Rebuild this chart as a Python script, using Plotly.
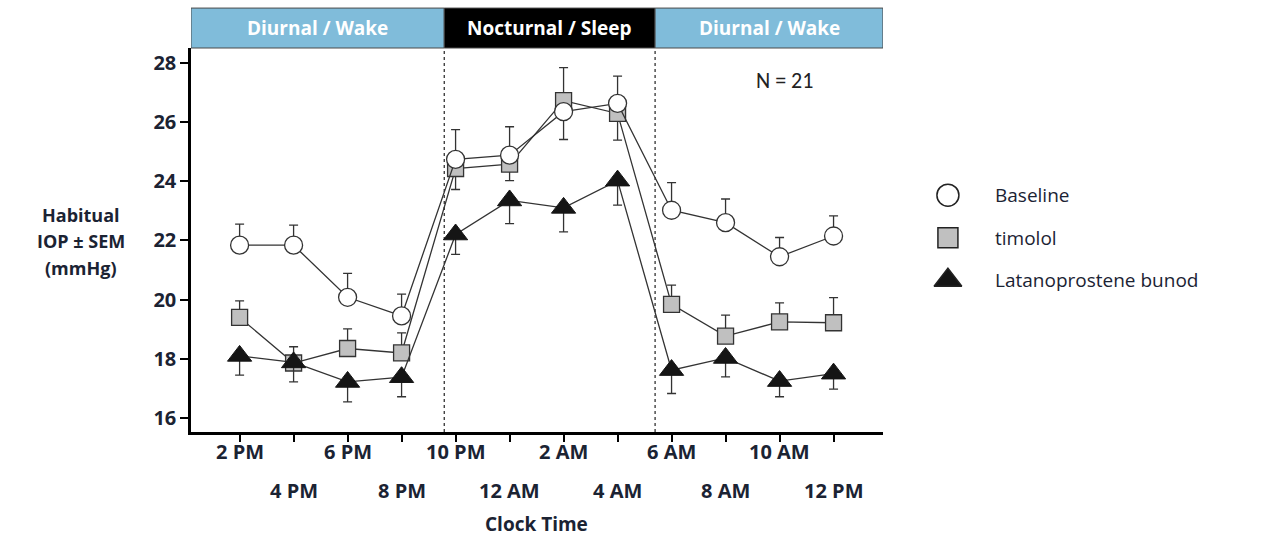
import plotly.graph_objects as go

# ---- data ----
hours = [0, 2, 4, 6, 8, 10, 12, 14, 16, 18, 20, 22]  # hours since 2 PM
tick_labels = ["2 PM", "4 PM", "6 PM", "8 PM", "10 PM", "12 AM",
               "2 AM", "4 AM", "6 AM", "8 AM", "10 AM", "12 PM"]

baseline = [21.84, 21.84, 20.08, 19.45, 24.74, 24.88, 26.35, 26.63, 23.02, 22.60, 21.45, 22.15]
baseline_up = [0.71, 0.68, 0.81, 0.74, 1.00, 0.96, 0.00, 0.92, 0.93, 0.80, 0.65, 0.68]
baseline_dn = [0, 0, 0, 0, 0, 0, 0.94, 0, 0, 0, 0, 0]

timolol = [19.40, 17.86, 18.35, 18.20, 24.43, 24.58, 26.72, 26.29, 19.84, 18.77, 19.25, 19.22]
timolol_up = [0.56, 0.55, 0.66, 0.68, 0, 0, 1.12, 0, 0.65, 0.71, 0.64, 0.85]
timolol_dn = [0, 0, 0, 0, 0.71, 0.56, 0, 0.90, 0, 0, 0, 0]

lbn = [18.10, 17.88, 17.22, 17.38, 22.20, 23.35, 23.10, 24.02, 17.62, 18.03, 17.25, 17.50]
lbn_dn = [0.65, 0.66, 0.67, 0.66, 0.67, 0.78, 0.81, 0.83, 0.79, 0.64, 0.53, 0.52]

y_ticks = [16, 18, 20, 22, 24, 26, 28]
sleep_start, sleep_end = 7.58, 15.39   # hours since 2 PM (lights off / on)
x_range = [-1.80, 23.83]
y_range = [15.53, 28.5]

phases = [("Diurnal / Wake", x_range[0], sleep_start, "#80BCDA"),
          ("Nocturnal / Sleep", sleep_start, sleep_end, "#000000"),
          ("Diurnal / Wake", sleep_end, x_range[1], "#80BCDA")]

legend_names = ["Baseline", "timolol", "Latanoprostene bunod"]

# ---- styles ----
TXT = "#1B2333"
FONT = "Century Gothic, Open Sans, sans-serif"
LINE = "#333333"

fig = go.Figure()

def err(up, dn):
    return dict(type="data", symmetric=False, array=up, arrayminus=dn,
                color=LINE, thickness=1.3, width=4.5)

fig.add_trace(go.Scatter(
    x=hours, y=timolol, mode="lines+markers", name="timolol",
    line=dict(color=LINE, width=1.3),
    marker=dict(symbol="square", size=16, color="#C0C0C0", line=dict(color="#333", width=1.3)),
    error_y=err(timolol_up, timolol_dn), showlegend=False))

fig.add_trace(go.Scatter(
    x=hours, y=lbn, mode="lines+markers", name="Latanoprostene bunod",
    line=dict(color=LINE, width=1.3),
    marker=dict(symbol="triangle-up", size=21, color="#151515", line=dict(color="#151515", width=1)),
    error_y=err([0] * len(lbn), lbn_dn), showlegend=False))

fig.add_trace(go.Scatter(
    x=hours, y=baseline, mode="lines+markers", name="Baseline",
    line=dict(color=LINE, width=1.3),
    marker=dict(symbol="circle", size=18, color="white", line=dict(color="#333", width=1.3)),
    error_y=err(baseline_up, baseline_dn), showlegend=False))

# ---- custom legend on a secondary axis ----
leg_rows = [0, -1, -2]
leg_symbols = ["circle", "square", "triangle-up"]
leg_fill = ["white", "#C0C0C0", "#151515"]
leg_sizes = [22, 20, 24]
for name, row, sym, fill, sz in zip(legend_names, leg_rows, leg_symbols, leg_fill, leg_sizes):
    fig.add_trace(go.Scatter(
        x=[20], y=[row], xaxis="x2", yaxis="y2", mode="markers",
        marker=dict(symbol=sym, size=sz, color=fill, line=dict(color="#222", width=1.5)),
        showlegend=False, hoverinfo="skip"))
    fig.add_annotation(x=65, y=row, xref="x2", yref="y2", text=name, showarrow=False,
                       xanchor="left", yanchor="middle",
                       font=dict(family=FONT, size=19, color=TXT))

# ---- header bands and dashed phase lines ----
for label, x0, x1, col in phases:
    fig.add_shape(type="rect", xref="x", yref="paper", x0=x0, x1=x1, y0=1, y1=1.104,
                  fillcolor=col, line=dict(color="#4A4A4A", width=1), layer="above")
    fig.add_annotation(x=(x0 + x1) / 2, y=1.052, xref="x", yref="paper",
                       text="<b>" + label + "</b>", showarrow=False,
                       xanchor="center", yanchor="middle",
                       font=dict(family=FONT, size=19, color="white"))

for xv in (sleep_start, sleep_end):
    fig.add_shape(type="line", xref="x", yref="paper", x0=xv, x1=xv, y0=0, y1=1,
                  line=dict(color="#222", width=1.2, dash="dot"), layer="below")

# ---- x tick labels (two staggered rows) ----
for i, (h, lab) in enumerate(zip(hours, tick_labels)):
    fig.add_annotation(x=h, y=-0.0503 if i % 2 == 0 else -0.152, xref="x", yref="paper",
                       text="<b>" + lab + "</b>", showarrow=False, yanchor="middle",
                       font=dict(family=FONT, size=20, color=TXT))

fig.add_annotation(x=(x_range[0] + x_range[1]) / 2, y=-0.240, xref="x", yref="paper",
                   text="<b>Clock Time</b>", showarrow=False, yanchor="middle",
                   font=dict(family=FONT, size=19, color=TXT))

for txt, yp in zip(["Habitual", "IOP ± SEM", "(mmHg)"], [0.5648, 0.4970, 0.4266]):
    fig.add_annotation(x=-0.103, y=yp, xref="paper", yref="paper", text="<b>" + txt + "</b>",
                       showarrow=False, xanchor="center", yanchor="middle",
                       font=dict(family=FONT, size=18, color=TXT))

fig.add_annotation(x=20.2, y=27.4, xref="x", yref="y", text="N = 21", showarrow=False,
                   xanchor="center", yanchor="middle",
                   font=dict(family="Carlito, Open Sans, sans-serif", size=22, color="#222"))

fig.update_layout(
    width=1269, height=537,
    margin=dict(l=191, r=10, t=48, b=105),
    paper_bgcolor="white", plot_bgcolor="white",
    xaxis=dict(domain=[0, 0.6479], range=x_range, tickvals=hours, showticklabels=False,
               ticks="outside", ticklen=7, tickwidth=1.5, tickcolor="black",
               showline=True, linecolor="black", linewidth=2.5, showgrid=False, zeroline=False),
    yaxis=dict(range=y_range, tickvals=y_ticks, ticks="outside", ticklen=8, tickwidth=1.5,
               tickcolor="black", showline=True, linecolor="black", linewidth=2.5,
               showgrid=False, zeroline=False,
               tickfont=dict(family=FONT, size=20, color=TXT, weight="bold")),
    xaxis2=dict(domain=[0.69, 1.0], range=[0, 331], visible=False),
    yaxis2=dict(anchor="x2", domain=[0, 1], range=[-5.57, 3.46], visible=False),
)

fig.write_html("out.html")
